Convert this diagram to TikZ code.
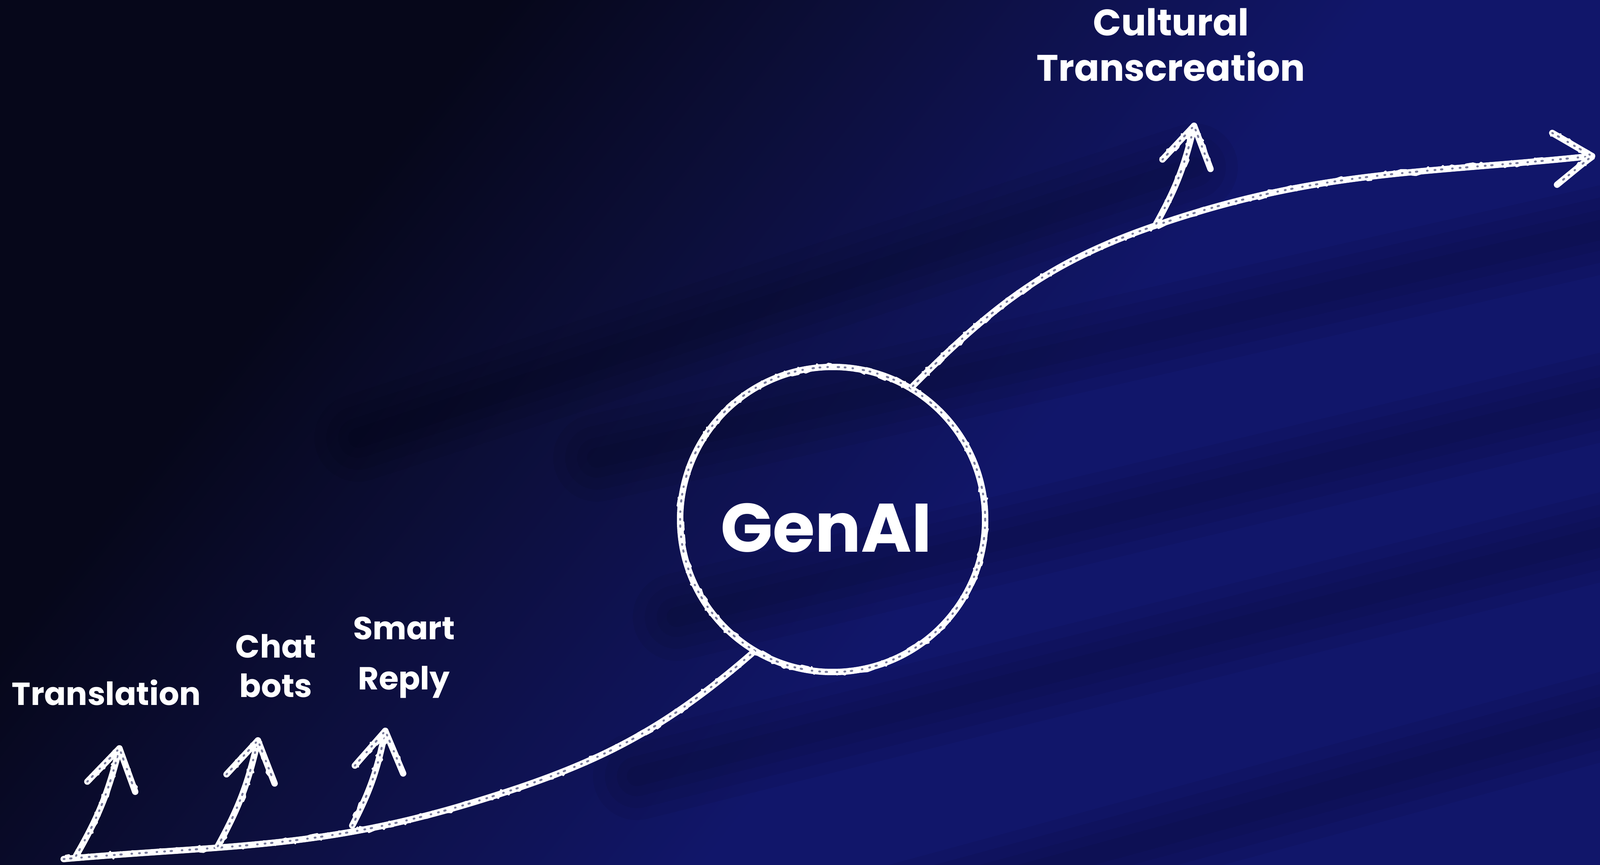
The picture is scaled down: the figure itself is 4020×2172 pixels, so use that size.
\documentclass[tikz,border=0pt]{standalone}
\usepackage{fontspec}
\setmainfont{Poppins}
\usetikzlibrary{calc,decorations.pathmorphing}
\definecolor{bgA}{HTML}{06071A}
\definecolor{bgB}{HTML}{0C0E38}
\definecolor{bgC}{HTML}{11166A}
\definecolor{speck}{HTML}{0B0F4A}
\pgfdeclarehorizontalshading{bgshade}{100bp}{color(0bp)=(bgA); color(37bp)=(bgA); color(44bp)=(bgB); color(55bp)=(bgC); color(100bp)=(bgC)}
\tikzset{
  chalk/.style={draw=white, line width=0.16cm, line cap=round, line join=round,
    postaction={draw=white, line width=0.045cm, decorate,
      decoration={random steps, segment length=2.5pt, amplitude=2.6pt}},
    postaction={draw=speck, line width=0.05cm, opacity=0.55,
      dash pattern=on 0.6pt off 4pt on 1pt off 7pt on 0.4pt off 5pt}},
  lbl/.style={text=white, font=\bfseries\fontsize{22.8}{27.9}\selectfont, inner sep=0pt, align=center},
  streak/.style={draw=black, line cap=round, opacity=0.05, line width=#1},
}
\newcommand\mystreak[2]{%
  \foreach \w in {2.2,1.6,1.0,0.5}{\draw[streak=\w cm] #1 -- #2;}}
\begin{document}
\begin{tikzpicture}[x=0.01cm, y=0.01cm]
\useasboundingbox (0,0) rectangle (4020,-2172);
\begin{scope}
  \clip (0,0) rectangle (4020,-2172);
  \shade[shading=bgshade, shading angle=-38] (-390,-3486) rectangle (4410,1314);
  \mystreak{(900,-1100)}{(3000,-420)}
  \mystreak{(1500,-1150)}{(4100,-560)}
  \mystreak{(1700,-1550)}{(4100,-980)}
  \mystreak{(1600,-1950)}{(4100,-1330)}
  \mystreak{(2000,-2350)}{(4100,-1780)}
\end{scope}

% labels (anchor = baseline of the last line)
\node[lbl, anchor=base] (translation) at (267,-1771) {Translation};
\node[lbl, anchor=base] (chatbots) at (693,-1751) {Chat\\bots};
\node[lbl, anchor=base, font=\bfseries\fontsize{22.8}{35.6}\selectfont] (smartreply) at (1015,-1732) {Smart\\Reply};
\node[lbl, anchor=base, font=\bfseries\fontsize{26.4}{32.4}\selectfont] (cultural) at (2942,-203) {Cultural\\Transcreation};

% central circle
\node[circle, minimum size=7.66cm, inner sep=0pt, chalk] (genai) at (2092,-1305) {};
\node[text=white, font=\bfseries\fontsize{49}{55}\selectfont, inner sep=0pt] (genailbl) at (2076,-1326) {GenAI};

% main curve
\coordinate (start) at (160,-2158);
\coordinate (m1) at (1194,-2014);
\coordinate (m2) at (2899,-568);
\coordinate (endpt) at (4000,-392);
\draw[chalk] (start) to[out=5,in=197] (m1) to[out=17,in=221] (genai.239);
\draw[chalk] (genai.59) to[out=45,in=199] (m2) to[out=19,in=186] (endpt);
\draw[chalk] ($(endpt)+(-100,58)$) -- (endpt) -- ($(endpt)+(-88,-72)$);

% small arrows
\coordinate (b1) at (191,-2150);  \coordinate (t1) at (300,-1880);
\coordinate (b2) at (547,-2126);  \coordinate (t2) at (648,-1860);
\coordinate (b3) at (885,-2074);  \coordinate (t3) at (968,-1836);
\coordinate (b4) at (2905,-562);  \coordinate (t4) at (3000,-316);
\foreach \b/\t in {b1/t1,b2/t2,b3/t3,b4/t4}{
  \draw[chalk] (\b) to[bend right=8] (\t);
  \draw[chalk] ($(\t)!1.16cm!-22:(\b)$) -- (\t) -- ($(\t)!1.16cm!42:(\b)$);
}
\end{tikzpicture}
\end{document}
